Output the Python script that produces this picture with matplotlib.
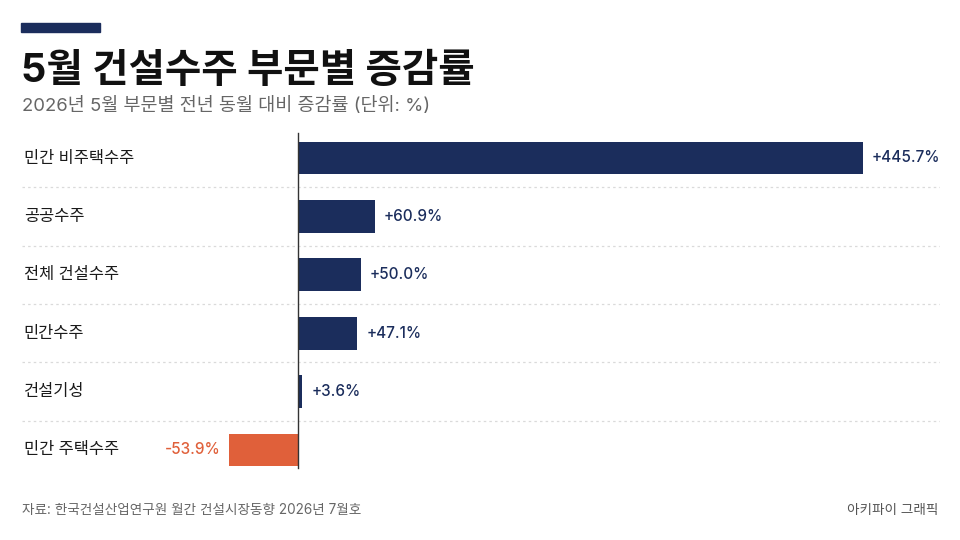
import matplotlib.pyplot as plt
import matplotlib.transforms as mtransforms

plt.rcParams["font.family"] = ["Inter", "Noto Sans CJK KR", "DejaVu Sans"]

# 데이터
categories = ["민간 비주택수주", "공공수주", "전체 건설수주", "민간수주", "건설기성", "민간 주택수주"]
values = [445.7, 60.9, 50.0, 47.1, 3.6, -53.9]

title = "5월 건설수주 부문별 증감률"
subtitle = "2026년 5월 부문별 전년 동월 대비 증감률 (단위: %)"
source = "자료: 한국건설산업연구원 월간 건설시장동향 2026년 7월호"
credit = "아키파이 그래픽"

NAVY = "#1b2d5c"
ORANGE = "#e0603a"
W, H = 960, 540

fig = plt.figure(figsize=(9.6, 5.4), dpi=100)
fig.patch.set_facecolor("white")

# 축 위치 (픽셀 기준)
ax_left, ax_right = 22, 940
ax_top, ax_bot = 128.8, 479.2
ax = fig.add_axes([ax_left / W, 1 - ax_bot / H, (ax_right - ax_left) / W, (ax_bot - ax_top) / H])
ax.set_facecolor("none")

# 0 위치가 x=297.7px, 445.7 이 x=862.7px 가 되도록
px_per_unit = (862.7 - 297.7) / 445.7
ax.set_xlim((ax_left - 297.7) / px_per_unit, (ax_right - 297.7) / px_per_unit)
ax.set_ylim(len(categories) - 0.5, -0.5)

ypos = list(range(len(categories)))
colors = [NAVY if v >= 0 else ORANGE for v in values]
ax.barh(ypos, values, height=0.565, color=colors, zorder=2)

# 구분 점선
for i in range(len(categories) - 1):
    ax.axhline(i + 0.5, color="#dadada", lw=0.9, ls=(0, (2, 2.5)), zorder=1)

# 0 기준선
ax.axvline(0, ymin=0.032, ymax=0.988, color="#333333", lw=1.0, zorder=3)

# 값 라벨
for y, v in zip(ypos, values):
    if v >= 0:
        ax.annotate(f"+{v:.1f}%", xy=(v, y), xytext=(6.5, 0), textcoords="offset points",
                    ha="left", va="center", fontsize=11, fontweight="medium", color=NAVY)
    else:
        ax.annotate(f"{v:.1f}%", xy=(v, y), xytext=(-6.5, 0), textcoords="offset points",
                    ha="right", va="center", fontsize=11, fontweight="medium", color=ORANGE)

# 카테고리 라벨
trans = mtransforms.blended_transform_factory(ax.transAxes, ax.transData)
for y, name in zip(ypos, categories):
    ax.text(0.002, y, name, transform=trans, ha="left", va="center", fontsize=11.8,
            fontweight="medium", color="#1a1a1a")

for s in ax.spines.values():
    s.set_visible(False)
ax.set_xticks([])
ax.set_yticks([])

# 상단 강조 막대
fig.patches.append(plt.Rectangle((21 / W, 1 - 31.5 / H), 79 / W, 8.5 / H,
                                 transform=fig.transFigure, color=NAVY))

fig.text(21 / W, 1 - 82 / H, title, fontsize=28.5, fontweight="bold", color="#111111", va="baseline")
fig.text(22 / W, 1 - 106 / H, subtitle, fontsize=13.3, color="#666666", va="center")
fig.text(22 / W, 1 - 510 / H, source, fontsize=9.8, color="#666666", va="center")
fig.text(938 / W, 1 - 510 / H, credit, fontsize=9.8, color="#555555", va="center", ha="right")

fig.savefig("out.png", dpi=100, facecolor=fig.get_facecolor())
